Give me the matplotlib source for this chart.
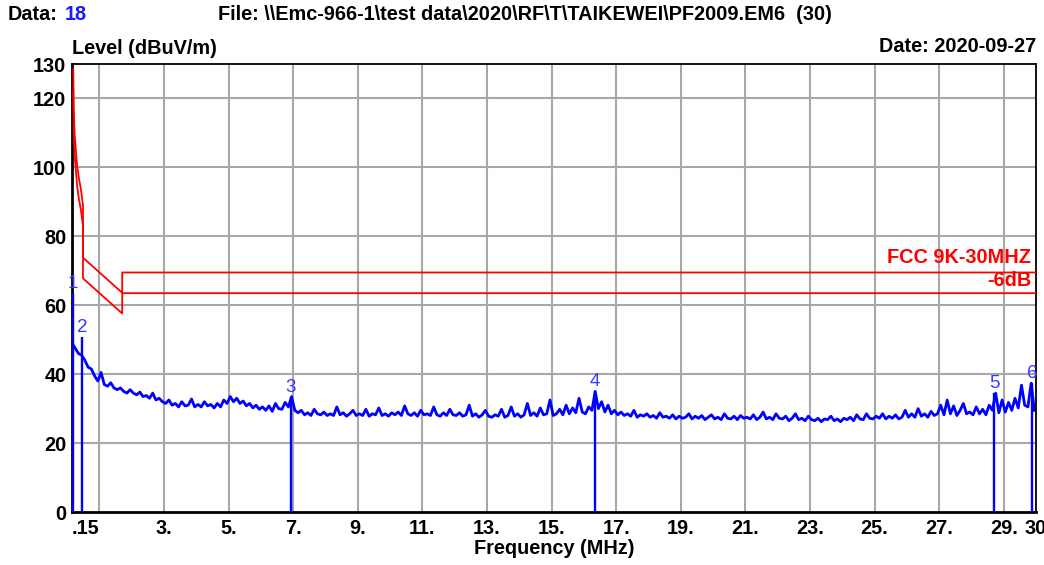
import numpy as np
import matplotlib.pyplot as plt

plt.rcParams['font.family'] = ['Liberation Sans', 'DejaVu Sans']

level = [
    49, 47.5, 46, 45.5, 44, 42, 41.5, 39.5, 38, 40.5,
    37, 36.5, 37.5, 36, 35.5, 36, 35, 34.5, 35.5, 34.5,
    34, 34.8, 33.5, 33.8, 33, 34.5, 32.5, 33, 32, 31.5,
    32.5, 31, 31.5, 30.5, 32, 30.8, 31, 32.8, 30.5, 31.2,
    30.5, 32, 30.8, 31.2, 30.2, 31.5, 30.5, 32.5, 31.5, 33.5,
    32, 33, 31.5, 32.2, 30.8, 31.5, 30.2, 31, 29.8, 30.5,
    29.5, 30.8, 29.2, 31.5, 30, 29.8, 31.8, 30.5, 33.5, 29.5,
    28.8, 29.5, 28.2, 28.8, 28, 29.8, 28.5, 28.2, 29, 28,
    28.5, 28, 30.5, 28.2, 28.8, 27.8, 28.5, 29.5, 28, 28.5,
    28, 29.8, 27.8, 28.5, 28.2, 30.2, 28, 28.5, 27.8, 28.8,
    28.2, 29, 28, 30.8, 28.5, 28, 28.8, 27.8, 29.5, 28.2,
    28.5, 28, 30.5, 28.2, 27.8, 28.8, 28, 29.8, 28.2, 28,
    28.8, 27.8, 28.2, 31, 27.8, 28.5, 27.5, 28.2, 29.5, 27.8,
    27.5, 28.2, 27.8, 29.8, 27.5, 28, 30.5, 27.8, 28.5, 27.5,
    28.2, 31.5, 28, 28.8, 27.8, 30.2, 28.2, 28.5, 32.5, 28,
    28.5, 29.8, 28.2, 31, 28.5, 30.2, 28.8, 33, 29, 28.5,
    30.5, 29.5, 35, 30, 32, 29, 31, 28.5, 29.5, 28.2,
    29, 28, 28.5, 27.8, 29.5, 27.5, 28.2, 27.8, 28.5, 27.5,
    28, 27.2, 28.8, 27.5, 27.8, 27.2, 28.2, 27, 27.8, 27.2,
    27.5, 28.5, 27, 27.8, 27.2, 28, 26.8, 27.5, 28.2, 27,
    27.5, 26.8, 28.5, 27.2, 27, 27.8, 26.8, 28, 27.2, 27.5,
    27, 28.2, 26.8, 27.5, 29, 27, 27.5, 26.8, 28.5, 27.2,
    27, 27.8, 26.5, 27.2, 28.5, 26.8, 27.2, 26.5, 27.8, 26.8,
    26.5, 27.2, 26.2, 27, 26.8, 27.8, 26.5, 27, 26.2, 27.2,
    26.8, 27.5, 26.5, 28.2, 27, 26.8, 28.5, 27.2, 27, 27.8,
    27.2, 28.5, 27, 27.8, 27.2, 28.2, 27, 27.5, 29.5, 27.5,
    28.5, 27.5, 30, 27.8, 28.5, 27.5, 29.2, 28, 28.5, 31,
    28.2, 32.5, 28.5, 30.8, 28, 29.5, 31.5, 28.5, 29, 28.2,
    30.5, 28.5, 29.8, 28.2, 31, 29.5, 34.5, 28.8, 32.5, 29,
    31.8, 29.5, 33, 30.2, 36.8, 31, 30.5, 37.4, 29.5,
]
freq = 0.15 + 0.1 * np.arange(len(level))

# FCC 9K-30MHZ limit and the -6dB line
lim_f = [0.19, 0.20, 0.23, 0.27, 0.31, 0.36, 0.42, 0.47, 0.49, 0.49, 1.705, 1.705, 30.0]
lim_v = [128.5, 118, 110, 105, 100.5, 97, 94, 90.5, 89, 73.8, 63.6, 69.5, 69.5]
lim6_v = [122.5, 112, 104, 99, 94.5, 91, 88, 84.5, 83, 67.8, 57.6, 63.5, 63.5]

# markers
mk_id = ['1', '2', '3', '4', '5', '6']
mk_f = [0.17, 0.47, 6.93, 16.35, 28.7, 29.88]
mk_v = [63.5, 50.8, 33.3, 35.0, 34.5, 37.4]

xticks = [0.15, 3, 5, 7, 9, 11, 13, 15, 17, 19, 21, 23, 25, 27, 29, 30]
xlabels = ['.15', '3.', '5.', '7.', '9.', '11.', '13.', '15.', '17.', '19.',
           '21.', '23.', '25.', '27.', '29.', '30']
xgrid = [1, 3, 5, 7, 9, 11, 13, 15, 17, 19, 21, 23, 25, 27, 29]
yticks = [0, 20, 40, 60, 80, 100, 120, 130]
ygrid = [20, 40, 60, 80, 100, 120]

FS = 14.3
W, H = 1044, 565
fig = plt.figure(figsize=(W / 100, H / 100), dpi=100)
ax = fig.add_axes([72 / W, 1 - 512 / H, (1036 - 72) / W, (512 - 64) / H])

for g in xgrid:
    ax.axvline(g, color='#a8a8a8', lw=1.5, zorder=0)
for g in ygrid:
    ax.axhline(g, color='#a8a8a8', lw=1.5, zorder=0)

ax.plot(lim_f, lim_v, color='red', lw=1.3, zorder=3)
ax.plot(lim_f, lim6_v, color='red', lw=1.3, zorder=3)
ax.plot(freq, level, color='blue', lw=2.0, zorder=2)

for i in range(len(mk_id)):
    ax.vlines(mk_f[i], 0, mk_v[i], color='blue', lw=1.7, zorder=3)
    ax.annotate(mk_id[i], (mk_f[i], mk_v[i]), xytext=(0, 1), textcoords='offset points',
                ha='center', va='bottom', color='#3838ff', fontsize=13.5, zorder=4)

ax.text(29.85, 73.9, 'FCC 9K-30MHZ', color='red', fontweight='bold', fontsize=FS,
        ha='right', va='center')
ax.text(29.85, 67.3, '-6dB', color='red', fontweight='bold', fontsize=FS,
        ha='right', va='center')

ax.set_xlim(0.15, 30)
ax.set_ylim(0, 130)
ax.set_xticks(xticks)
ax.set_xticklabels(xlabels, fontweight='bold', fontsize=FS)
ax.get_xticklabels()[0].set_ha('left')
ax.set_yticks(yticks)
ax.set_yticklabels([str(v) for v in yticks], fontweight='bold', fontsize=FS)
ax.tick_params(axis='x', length=0, pad=5)
ax.tick_params(axis='y', length=0, pad=4)
ax.set_xlabel('Frequency (MHz)', fontweight='bold', fontsize=FS, labelpad=1)

for s in ['left', 'bottom']:
    ax.spines[s].set_linewidth(2)
for s in ['top', 'right']:
    ax.spines[s].set_linewidth(1.3)

fig.text(8 / W, 1 - 15 / H, 'Data:', fontweight='bold', fontsize=FS, va='center')
fig.text(65 / W, 1 - 15 / H, '18', fontweight='bold', fontsize=FS, va='center', color='#1a1aff')
fig.text(218 / W, 1 - 15 / H, r'File: \\Emc-966-1\test data\2020\RF\T\TAIKEWEI\PF2009.EM6  (30)',
         fontweight='bold', fontsize=FS, va='center')
fig.text(72 / W, 1 - 48 / H, 'Level (dBuV/m)', fontweight='bold', fontsize=FS, va='center')
fig.text(1036 / W, 1 - 47 / H, 'Date: 2020-09-27', fontweight='bold', fontsize=FS,
         va='center', ha='right')

fig.savefig('out.png', dpi=100)
